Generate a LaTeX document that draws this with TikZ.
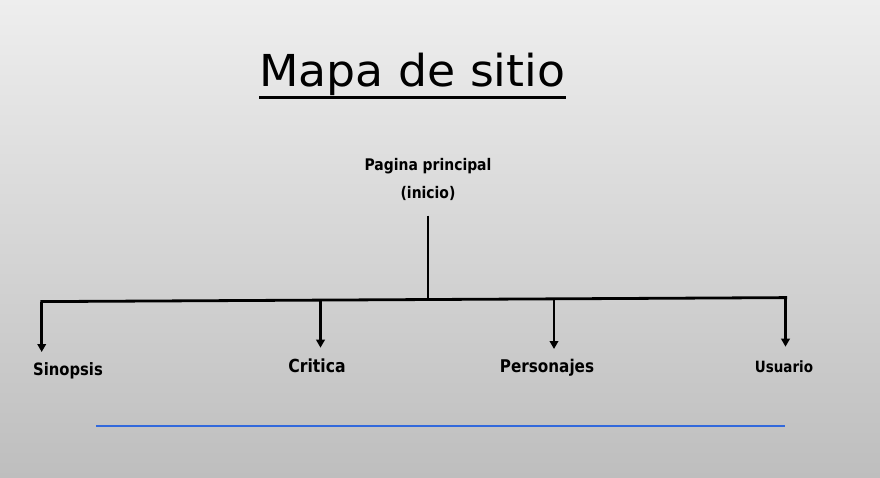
\documentclass[tikz,border=0pt]{standalone}
\usepackage{fontspec}
\usetikzlibrary{arrows.meta}
\newfontfamily\titlefont{DejaVu Sans}[FakeStretch=1.04]
\newfontfamily\labelfont{DejaVu Sans Bold}[FakeStretch=0.87]
\definecolor{bgtop}{HTML}{EEEEEE}
\definecolor{bgmid}{HTML}{E3E3E3}
\definecolor{bgbottom}{HTML}{BEBEBE}
\definecolor{rulerblue}{RGB}{50,105,220}
\tikzset{
	heading/.style={inner sep=0pt, font=\titlefont\fontsize{44}{50}\selectfont},
	pagelabel/.style={inner sep=0pt, anchor=base, font=\labelfont\fontsize{#1}{28}\selectfont},
	trunk/.style={line width=2.8pt},
	branch/.style={line width=2.5pt, -{Triangle[width=8.5pt,length=8pt]}}
}
\begin{document}
\begin{tikzpicture}[x=1pt, y=-1pt]
	%background
	\useasboundingbox (0,0) rectangle (880,477);
	\shade[top color=bgtop, middle color=bgmid, bottom color=bgbottom] (0,0) rectangle (880,477);

	%title
	\node[heading, anchor=base west] (title) at (259,86.7) {Mapa de sitio};
	\draw[line width=3pt] ([yshift=-10.5pt]title.base west) -- ([yshift=-10.5pt]title.base east);

	%root
	\node[pagelabel=16, anchor=north, align=center] (root) at (428,158) {Pagina principal\\(inicio)};
	\coordinate (hub) at (428,299.6);
	\draw[trunk, shorten <=15pt] (root.south) -- (hub);

	%bar
	\coordinate (bar west) at (40.3,301.6);
	\coordinate (bar east) at (787,297.6);
	\draw[trunk] (bar west) -- (bar east);

	%branches
	\foreach \name/\x/\ytop/\ytip in {sinopsis/41.7/301.5/352, critica/320.5/300/347.7, personajes/554/299/349, usuario/785.5/297.8/346.7}{
		\coordinate (\name top) at (\x,\ytop);
		\coordinate (\name tip) at (\x,\ytip);
		\draw[branch] (\name top) -- (\name tip);
	}

	%pages
	\node[pagelabel=17] (sinopsis) at (68,375) {Sinopsis};
	\node[pagelabel=18] (critica) at (317,372.3) {Critica};
	\node[pagelabel=17.5] (personajes) at (547,372) {Personajes};
	\node[pagelabel=15.5] (usuario) at (784,372.7) {Usuario};

	%ruler
	\draw[rulerblue, line width=1.3pt] (96,426) -- (785,426);
\end{tikzpicture}
\end{document}
